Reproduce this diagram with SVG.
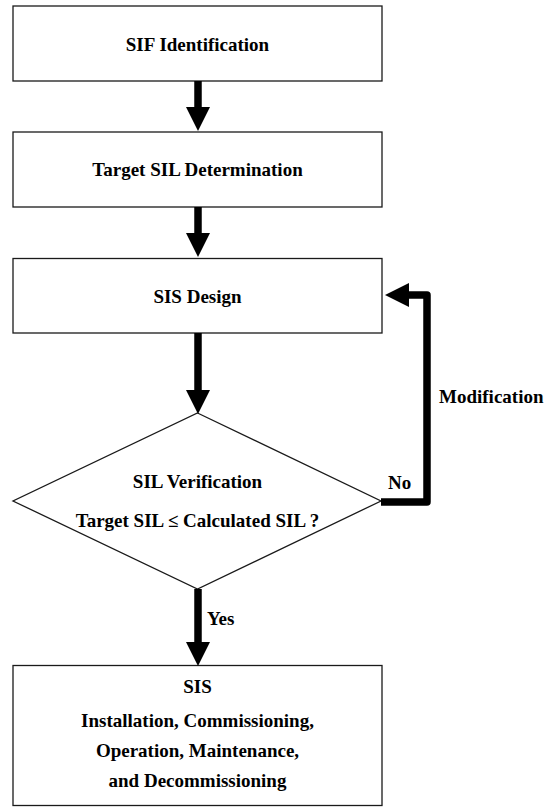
<svg xmlns="http://www.w3.org/2000/svg" width="547" height="809" viewBox="0 0 547 809">
<style>
.box{fill:#fff;stroke:#1a1a1a;stroke-width:1.3}
.t{font-family:"Liberation Serif","Times New Roman",serif;font-weight:bold;font-size:19px;fill:#000;text-anchor:middle}
.l{font-family:"Liberation Serif","Times New Roman",serif;font-weight:bold;font-size:19px;fill:#000}
.shaft{fill:none;stroke:#000;stroke-width:7.5;stroke-linejoin:round}
.head{fill:#000}
</style>
<rect width="547" height="809" fill="#fff"/>
<g id="n1"><rect class="box" x="13" y="6" width="369" height="75"/><text class="t" x="197.5" y="51">SIF Identification</text></g>
<g id="n2"><rect class="box" x="13" y="132" width="369" height="75"/><text class="t" x="197.5" y="176">Target SIL Determination</text></g>
<g id="n3"><rect class="box" x="13" y="258.5" width="369" height="74.5"/><text class="t" x="197.5" y="303">SIS Design</text></g>
<g id="n4"><polygon class="box" points="197.5,413 381,501 197.5,589 13,501"/>
<text class="t" x="197.5" y="488">SIL Verification</text>
<text class="t" x="197.5" y="527">Target SIL ≤ Calculated SIL ?</text></g>
<g id="n5"><rect class="box" x="13" y="665.5" width="369" height="140"/>
<text class="t" x="197.5" y="693">SIS</text>
<text class="t" x="197.5" y="727">Installation, Commissioning,</text>
<text class="t" x="197.5" y="757">Operation, Maintenance,</text>
<text class="t" x="197.5" y="787">and Decommissioning</text></g>
<g id="connectors">
<line class="shaft" x1="198" y1="81" x2="198" y2="108"/>
<polygon class="head" points="186,107 210,107 198,131"/>
<line class="shaft" x1="198" y1="207" x2="198" y2="234"/>
<polygon class="head" points="186,233 210,233 198,257"/>
<line class="shaft" x1="198" y1="333" x2="198" y2="391"/>
<polygon class="head" points="186,390 210,390 198,414"/>
<line class="shaft" x1="198" y1="589" x2="198" y2="643"/>
<polygon class="head" points="186,642 210,642 198,666"/>
<polyline class="shaft" points="381,502 427,502 427,295 407,295"/>
<polygon class="head" points="409,283 409,307 385,295"/>
<text class="l" x="388" y="489">No</text>
<text class="l" x="439" y="403">Modification</text>
<text class="l" x="207" y="625">Yes</text>
</g>
</svg>
